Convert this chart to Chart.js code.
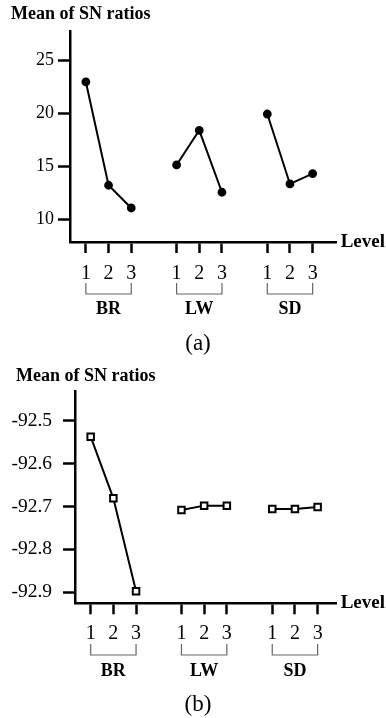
<!DOCTYPE html>
<html>
<head>
<meta charset="utf-8">
<script src="https://cdn.jsdelivr.net/npm/chart.js@4.4.1/dist/chart.umd.min.js"></script>
<style>
  body { margin: 0; background: #fff; }
  canvas { display: block; }
</style>
</head>
<body>
<canvas id="chart-a" width="386" height="358"></canvas>
<canvas id="chart-b" width="386" height="360"></canvas>
<script>
// factors and levels
const factors = ['BR', 'LW', 'SD'];
const levels = ['1', '2', '3'];

// (a) mean of SN ratios
const brA = [22.96, 13.24, 11.1];
const lwA = [15.15, 18.41, 12.58];
const sdA = [19.94, 13.36, 14.34];
const yTicksA = [10, 15, 20, 25];

// (b) mean of SN ratios
const brB = [-92.537, -92.681, -92.898];
const lwB = [-92.708, -92.698, -92.698];
const sdB = [-92.706, -92.706, -92.701];
const yTicksB = [-92.9, -92.8, -92.7, -92.6, -92.5];

const serif = "'Liberation Serif', 'Times New Roman', serif";

// level position on the shared x scale: 4 slots per factor
function slot(f, l) { return f * 4 + l; }
const xTicks = [];
factors.forEach((f, fi) => levels.forEach((l, li) => xTicks.push(slot(fi, li))));

function series(values, fi) {
    return values.map((v, li) => ({ x: slot(fi, li), y: v }));
}

function makeDatasets(groups, pointStyle) {
    return groups.map((vals, fi) => ({
        label: factors[fi],
        data: series(vals, fi),
        borderColor: '#000',
        borderWidth: 2,
        pointStyle: pointStyle,
        pointRadius: pointStyle === 'rect' ? 4.6 : 3.4,
        pointBorderWidth: 2,
        pointBorderColor: '#000',
        pointBackgroundColor: pointStyle === 'rect' ? '#fff' : '#000',
        tension: 0
    }));
}

// title, "Level", brackets and factor names
function decorations(cfg) {
    return {
        id: 'decorations',
        afterDraw(chart) {
            const ctx = chart.ctx;
            const x = chart.scales.x;
            const area = chart.chartArea;
            ctx.save();
            ctx.fillStyle = '#000';
            ctx.textBaseline = 'middle';

            ctx.font = 'bold 18px ' + serif;
            ctx.textAlign = 'left';
            ctx.fillText('Mean of SN ratios', cfg.titleX, cfg.titleY);

            ctx.font = 'bold 19px ' + serif;
            ctx.fillText('Level', area.right + 4, area.bottom);

            factors.forEach((f, fi) => {
                const x1 = x.getPixelForValue(slot(fi, 0));
                const x2 = x.getPixelForValue(slot(fi, 2));
                const xm = x.getPixelForValue(slot(fi, 1));
                ctx.strokeStyle = '#666';
                ctx.lineWidth = 1.2;
                ctx.beginPath();
                ctx.moveTo(x1, cfg.bracketTop);
                ctx.lineTo(x1, cfg.bracketBottom);
                ctx.lineTo(x2, cfg.bracketBottom);
                ctx.lineTo(x2, cfg.bracketTop);
                ctx.stroke();
                ctx.font = 'bold 18px ' + serif;
                ctx.textAlign = 'center';
                ctx.fillText(f, xm, cfg.groupY);
            });

            ctx.font = '23px ' + serif;
            ctx.textAlign = 'center';
            ctx.fillText(cfg.panel, 198, cfg.panelY);
            ctx.restore();
        }
    };
}

function makeChart(id, groups, pointStyle, o) {
    return new Chart(document.getElementById(id), {
        type: 'line',
        data: { datasets: makeDatasets(groups, pointStyle) },
        options: {
            responsive: false,
            animation: false,
            devicePixelRatio: 1,
            layout: { padding: { top: o.top, right: o.right, bottom: 0, left: 0 } },
            plugins: { legend: { display: false }, tooltip: { enabled: false } },
            scales: {
                x: {
                    type: 'linear',
                    min: o.xMin,
                    max: o.xMax,
                    afterBuildTicks: s => { s.ticks = xTicks.map(v => ({ value: v })); },
                    afterFit: s => { s.height = o.xHeight; },
                    border: { color: '#000', width: 2.5 },
                    grid: { drawOnChartArea: false, drawTicks: true, tickLength: 11, tickWidth: 2.5, tickColor: '#000' },
                    ticks: {
                        autoSkip: false,
                        maxRotation: 0,
                        padding: o.xPad,
                        color: '#000',
                        font: { family: serif, size: 20 },
                        callback: (v, i) => levels[i % 3]
                    }
                },
                y: {
                    min: o.yMin,
                    max: o.yMax,
                    afterBuildTicks: s => { s.ticks = o.yTicks.map(v => ({ value: v })); },
                    afterFit: s => { s.width = o.left; },
                    border: { color: '#000', width: 2.5 },
                    grid: { drawOnChartArea: false, drawTicks: true, tickLength: 12, tickWidth: 2.5, tickColor: '#000' },
                    ticks: {
                        padding: o.yPad,
                        color: '#000',
                        font: { family: serif, size: o.yFont },
                        callback: o.yFormat
                    }
                }
            }
        },
        plugins: [decorations(o)]
    });
}

makeChart('chart-a', [brA, lwA, sdA], 'circle', {
    top: 31, right: 49.3, left: 70, xHeight: 116,
    xMin: -0.7, xMax: 11.06, xPad: 9, yPad: 4, yFont: 18,
    yMin: 7.9, yMax: 27.75, yTicks: yTicksA,
    yFormat: v => String(v),
    titleX: 11, titleY: 14,
    bracketTop: 283, bracketBottom: 294, groupY: 309,
    panel: '(a)', panelY: 344
});

makeChart('chart-b', [brB, lwB, sdB], 'rect', {
    top: 33.7, right: 49.3, left: 75, xHeight: 114.7,
    xMin: -0.69, xMax: 10.84, xPad: 7, yPad: 11, yFont: 19.5,
    yMin: -92.926, yMax: -92.432, yTicks: yTicksB,
    yFormat: v => v.toFixed(1),
    titleX: 16, titleY: 18,
    bracketTop: 286, bracketBottom: 297, groupY: 313.5,
    panel: '(b)', panelY: 347
});
</script>
</body>
</html>
